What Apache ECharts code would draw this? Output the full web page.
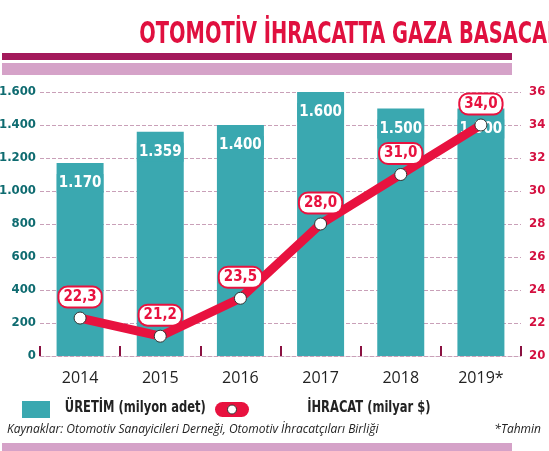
<!DOCTYPE html>
<html><head><meta charset="utf-8">
<script src="https://cdn.jsdelivr.net/npm/echarts@6/dist/echarts.min.js"></script>
<style>body{margin:0;background:#fff}#c{width:549px;height:451px}</style>
</head><body><div id="c"></div>
<script>
var years = ['2014', '2015', '2016', '2017', '2018', '2019*'];
var uretim = [1170, 1359, 1400, 1600, 1500, 1500];
var ihracat = [22.3, 21.2, 23.5, 28.0, 31.0, 34.0];

function trNum(v, d) {
    return v.toFixed(d).replace('.', ',');
}
function thousands(v) {
    return v >= 1000 ? Math.floor(v / 1000) + '.' + ('00' + (v % 1000)).slice(-3) : '' + v;
}

var chart = echarts.init(document.getElementById('c'));
var cond = '"Liberation Sans Narrow", "DejaVu Sans Condensed", sans-serif';
chart.setOption({
    animation: false,
    grid: {left: 40, right: 28, top: 92, bottom: 95, outerBoundsMode: 'none', containLabel: false},
    graphic: [
        {type: 'text', x: 274, y: 20, scaleX: 0.72, originX: 274, style: {text: 'OTOMOTİV İHRACATTA GAZA BASACAK', align: 'center', fill: '#e0103f', font: 'bold 30px ' + cond}},
        {type: 'rect', shape: {x: 2, y: 53, width: 510, height: 7}, style: {fill: '#a3195b'}},
        {type: 'rect', shape: {x: 2, y: 63, width: 510, height: 12}, style: {fill: '#d5a2c8'}},
        {type: 'rect', shape: {x: 2, y: 443, width: 510, height: 8}, style: {fill: '#d5a2c8'}},
        {type: 'rect', shape: {x: 22, y: 401, width: 28, height: 17}, style: {fill: '#3aa8b0'}},
        {type: 'text', x: 54, y: 400, scaleX: 0.8, originX: 54, style: {text: 'ÜRETİM (milyon adet)', fill: '#222', font: 'bold 16px ' + cond}},
        {type: 'rect', shape: {x: 215, y: 402, width: 34, height: 15, r: 7.5}, style: {fill: '#e8123f'}},
        {type: 'circle', shape: {cx: 232, cy: 409.5, r: 4.5}, style: {fill: '#fff', stroke: '#333', lineWidth: 1}},
        {type: 'text', x: 256, y: 400, scaleX: 0.8, originX: 256, style: {text: 'İHRACAT (milyar $)', fill: '#222', font: 'bold 16px ' + cond}},
        {type: 'text', left: 7, top: 424, style: {text: 'Kaynaklar: Otomotiv Sanayicileri Derneği, Otomotiv İhracatçıları Birliği', fill: '#222', font: 'italic 12px "Open Sans", sans-serif'}},
        {type: 'text', right: 8, top: 424, style: {text: '*Tahmin', fill: '#222', font: 'italic 12px "Open Sans", sans-serif'}}
    ],
    xAxis: {
        type: 'category', data: years,
        axisLine: {show: true, lineStyle: {color: '#c9a0b8', type: 'dashed'}},
        axisTick: {show: true, inside: true, length: 10, interval: 0, lineStyle: {color: '#8a1040', width: 2}},
        axisLabel: {color: '#222', fontSize: 16, margin: 14, fontFamily: 'Open Sans'}
    },
    yAxis: [{
        type: 'value', min: 0, max: 1600, interval: 200,
        axisLabel: {color: '#0e6b70', fontSize: 13, fontFamily: cond, fontWeight: 'bold', margin: 4, formatter: thousands},
        splitLine: {lineStyle: {color: '#c9a0b8', type: 'dashed'}}
    }, {
        type: 'value', min: 20, max: 36, interval: 2,
        axisLabel: {color: '#d41040', fontSize: 13, fontFamily: cond, fontWeight: 'bold', margin: 8},
        splitLine: {show: false}
    }],
    series: [{
        type: 'bar', data: uretim, barWidth: 47,
        itemStyle: {color: '#3aa8b0'},
        label: {show: true, position: 'insideTop', offset: [0, 6], color: '#fff', fontSize: 15, fontFamily: cond, fontWeight: 'bold',
            backgroundColor: '#3aa8b0', padding: [2, 2],
            formatter: function (p) { return thousands(p.value); }}
    }, {
        type: 'line', yAxisIndex: 1, data: ihracat,
        symbol: 'circle', symbolSize: 12,
        lineStyle: {color: '#e8123f', width: 9},
        itemStyle: {color: '#fff', borderColor: '#333', borderWidth: 1},
        z: 5,
        label: {show: true, position: 'top', distance: 5, color: '#e8123f', fontSize: 15, fontFamily: cond, fontWeight: 'bold',
            backgroundColor: '#fff', borderColor: '#e8123f', borderWidth: 2, borderRadius: 8, padding: [2, 4],
            formatter: function (p) { return trNum(p.value, 1); }}
    }]
});
</script></body></html>
